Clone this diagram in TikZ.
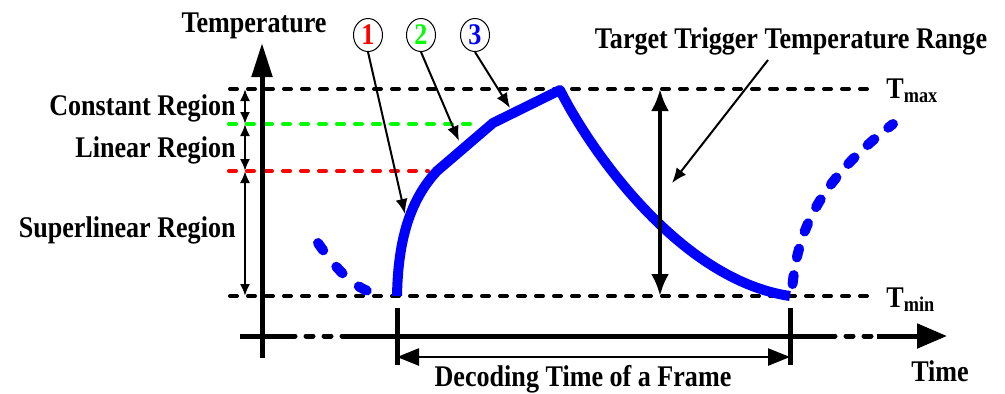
\documentclass[tikz,border=0pt]{standalone}
\usepackage{fontspec}
\setmainfont{Liberation Serif}[FakeStretch=0.87]
\usetikzlibrary{arrows.meta,shapes.geometric}
\colorlet{heatBlue}{blue}
\colorlet{lineGreen}{green}
\colorlet{superRed}{red}
\tikzset{
  >=Latex,
  font=\fontsize{15}{17}\selectfont\bfseries,
  axis/.style={line width=2.5pt, draw=black},
  level/.style={line width=2pt, dash pattern=on 3.5pt off 5.5pt, line cap=round},
  span/.style={{Latex[length=6pt,width=5pt]}-{Latex[length=6pt,width=5pt]}, line width=1pt},
  pointer/.style={-{Latex[length=7.5pt,width=6pt]}, line width=1pt},
  heat/.style={line width=5pt, draw=heatBlue, line join=round},
  heatdash/.style={heat, line cap=round, dash pattern=on 4.5pt off 10.5pt},
  lab/.style={inner sep=0pt},
  badge/.style={ellipse, draw, line width=0.5pt, fill=white,
    minimum width=14.5pt, minimum height=16.5pt, inner sep=0pt},
  tick/.style={line width=2.5pt}
}
\newcommand{\lowsub}[1]{\raisebox{-2pt}{\fontsize{10.5}{12}\selectfont #1}}

\begin{document}
\begin{tikzpicture}[x=0.5pt,y=-0.5pt]
\useasboundingbox (0,0) rectangle (1005,393);

% temperature levels
\coordinate (tmaxL) at (230,89);
\coordinate (tmaxR) at (872,89);
\coordinate (linL) at (229,124);
\coordinate (linR) at (478,124);
\coordinate (supL) at (229,171);
\coordinate (supR) at (428,171);
\coordinate (tminL) at (230,296);
\coordinate (tminR) at (870,296);
\draw[level] (tmaxL) -- (tmaxR);
\draw[level, draw=lineGreen] (linL) -- (linR);
\draw[level, draw=superRed] (supL) -- (supR);
\draw[level] (tminL) -- (tminR);

\node[lab, anchor=base west] (tmax) at (886,98) {T\lowsub{max}};
\node[lab, anchor=base west] (tmin) at (886,307) {T\lowsub{min}};

% axes
\coordinate (yBot) at (262,358);
\coordinate (yTop) at (262,43);
\draw[axis, -{Triangle[length=17pt,width=10pt]}] (yBot) -- (yTop);
\node[lab, anchor=base] (temp) at (254,32) {Temperature};

\coordinate (xA) at (240,336);
\coordinate (xB) at (288,336);
\coordinate (xC) at (342,336);
\coordinate (xD) at (828,336);
\coordinate (xE) at (877,336);
\coordinate (xF) at (947,336);
\draw[axis] (xA) -- (xB);
\draw[level, line width=2.5pt] (xB) -- (xC);
\draw[axis] (xC) -- (xD);
\draw[level, line width=2.5pt] (xD) -- (xE);
\draw[axis, -{Triangle[length=15pt,width=12pt]}] (xE) -- (xF);
\node[lab, anchor=base] (time) at (940,381) {Time};

% region spans
\coordinate (sTop) at (245,89);
\coordinate (sLin) at (245,124);
\coordinate (sSup) at (245,171);
\coordinate (sBot) at (245,296);
\draw[span] (sTop) -- (sLin);
\draw[span] (sLin) -- (sSup);
\draw[span] (sSup) -- (sBot);
\node[lab, anchor=base east] (constR) at (236,115) {Constant Region};
\node[lab, anchor=base east] (linearR) at (236,157) {Linear Region};
\node[lab, anchor=base east] (superR) at (236,237) {Superlinear Region};

% heating and cooling curve
\coordinate (start) at (397,296);
\coordinate (kneeA) at (437,171);
\coordinate (kneeB) at (493,123);
\coordinate (peak) at (560,90);
\coordinate (stop) at (790,296);
\draw[heat] (start) .. controls (398,240) and (410,200) .. (kneeA)
  -- (kneeB) -- (peak) .. controls (590,150) and (680,280) .. (stop);
\draw[heatdash] (318,243) .. controls (338,272) and (358,292) .. (380,294);
\draw[heatdash, dash pattern=on 4.5pt off 9pt, dash phase=-3pt] (792,290) .. controls (797,230) and (820,180) .. (893,124);

% phase markers
\node[badge, text=superRed] (c1) at (368,35) {1};
\node[badge, text=lineGreen] (c2) at (421,35) {2};
\node[badge, text=heatBlue] (c3) at (475,35) {3};
\coordinate (p1) at (405,214);
\coordinate (p2) at (459,141);
\coordinate (p3) at (510,108);
\draw[pointer] (c1.south) -- (p1);
\draw[pointer] (c2.south) -- (p2);
\draw[pointer] (c3.south) -- (p3);

% target range
\coordinate (rTop) at (660,89);
\coordinate (rBot) at (660,296);
\draw[{Latex[length=11pt,width=9pt]}-{Latex[length=11pt,width=9pt]}, line width=2pt] (rTop) -- (rBot);
\node[lab, anchor=base] (range) at (791,48) {Target Trigger Temperature Range};
\coordinate (rFrom) at (768,60);
\coordinate (rTo) at (672,183);
\draw[pointer] (rFrom) -- (rTo);

% frame duration
\coordinate (fAtop) at (397,308);
\coordinate (fAbot) at (397,365);
\coordinate (fBtop) at (790,308);
\coordinate (fBbot) at (790,365);
\draw[tick] (fAtop) -- (fAbot);
\draw[tick] (fBtop) -- (fBbot);
\coordinate (fL) at (397,357);
\coordinate (fR) at (790,357);
\draw[{Triangle[length=11pt,width=8.5pt]}-{Triangle[length=11pt,width=8.5pt]}, line width=1.25pt] (fL) -- (fR);
\node[lab, anchor=base] (frame) at (583,386) {Decoding Time of a Frame};

\end{tikzpicture}
\end{document}
